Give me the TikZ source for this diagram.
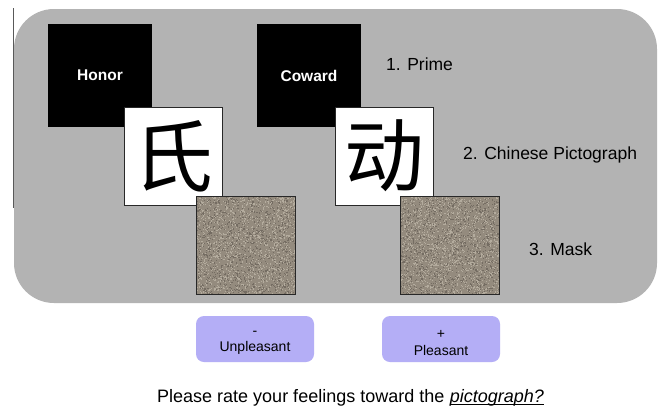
\documentclass[tikz,border=0pt]{standalone}
\usepackage{fontspec}
\setmainfont{Liberation Sans}
\newfontfamily\cjk{Noto Sans CJK SC}
\usetikzlibrary{calc}
\definecolor{panel}{RGB}{179,179,179}
\definecolor{btn}{RGB}{180,174,246}
\definecolor{maskbase}{RGB}{148,139,126}
\definecolor{masklight}{RGB}{180,172,158}
\definecolor{maskdark}{RGB}{116,108,98}
\definecolor{edge}{RGB}{40,40,40}
\tikzset{
  prime/.style={fill=black, draw=none, minimum width=104pt, minimum height=103pt, inner sep=0pt, text=white, font=\fontsize{15.5}{17}\selectfont\bfseries},
  picto/.style={fill=white, draw=edge, line width=1pt, minimum width=98pt, minimum height=98pt, inner sep=0pt, font=\cjk\fontsize{80}{80}\selectfont},
  maskbox/.style={fill=maskbase, minimum width=98pt, minimum height=97pt, inner sep=0pt},
  label/.style={anchor=west, inner sep=0pt, font=\fontsize{17.5}{20}\selectfont},
  button/.style={fill=btn, draw=none, rounded corners=8pt, minimum width=118pt, minimum height=46pt, inner sep=0pt},
  btntext/.style={inner sep=0pt, align=center, font=\fontsize{14}{16.5}\selectfont},
  qtext/.style={inner sep=0pt, font=\fontsize{18}{20}\selectfont}
}
\newcommand{\masktexture}[1]{%
  \begin{scope}
    \clip (#1.north west) rectangle (#1.south east);
    \foreach \k in {1,...,1400}{\fill[masklight] ($(#1.north west)+(rnd*98,rnd*98)$) rectangle +(1.1,1.1);}
    \foreach \k in {1,...,1000}{\fill[maskdark] ($(#1.north west)+(rnd*98,rnd*98)$) rectangle +(1.1,1.1);}
  \end{scope}
  \draw[edge, line width=1.2pt] (#1.north west) rectangle (#1.south east);
}
\begin{document}
\begin{tikzpicture}[x=1pt,y=-1pt]
\pgfmathsetseed{12}
\useasboundingbox (0,0) rectangle (660,410);
\fill[white] (0,0) rectangle (660,410);
% panel
\node[fill=panel, rounded corners=40pt, minimum width=643pt, minimum height=294pt, inner sep=0pt] (panel) at (335.5,156) {};
\coordinate (vtop) at (13.5,8);
\coordinate (vbot) at (13.5,208);
\draw[black!65, line width=1.3pt] (vtop) -- (vbot);
% left sequence
\node[prime] (honor) at (100,75.5) {Honor};
\node[picto] (p1) at (173.5,156) {氏};
\node[maskbox] (m1) at (246,245.5) {};
\masktexture{m1}
% right sequence
\node[prime] (coward) at (309,75.5) {Coward};
\node[picto] (p2) at (384,156) {动};
\node[maskbox] (m2) at (450,245.5) {};
\masktexture{m2}
% labels
\node[label] (l1) at (386,64) {1. Prime};
\node[label] (l2) at (463,155) {2. Chinese Pictograph};
\node[label] (l3) at (529,249) {3. Mask};
% buttons
\node[button] (b1) at (255,339) {};
\node[btntext] (t1) at ($(b1)+(0,4)$) {-\\Unpleasant};
\node[button] (b2) at (441,339) {};
\node[btntext] (t2) at ($(b2)+(0,4)$) {+\\Pleasant};
% question
\node[qtext, anchor=base west] (q) at (157,402) {Please rate your feelings toward the};
\node[qtext, anchor=base west, xshift=5pt] (qi) at (q.base east) {\itshape pictograph?};
\draw[black, line width=0.9pt] ($(qi.base west)+(0,2)$) -- ($(qi.base east)+(0,2)$);
\end{tikzpicture}
\end{document}
